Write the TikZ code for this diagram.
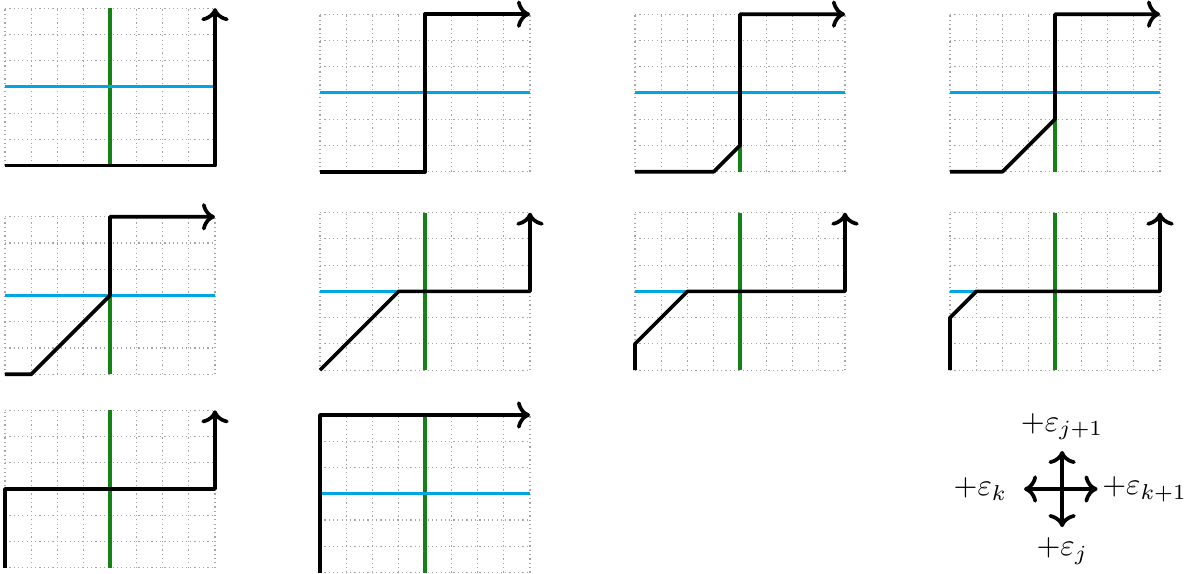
\documentclass[tikz,border=0pt]{standalone}
\usepackage{xcolor}
\usepackage{tikz}
\usetikzlibrary{arrows.meta, positioning, calc}

\definecolor{azul}{RGB}{0,166,226}
\definecolor{verde}{RGB}{20,130,20}

\begin{document}
\begin{tikzpicture}[
  x=0.3cm, y=0.3cm,
  grd/.style={gray!70, densely dotted, line width=0.4pt, step=0.3cm},
  hor/.style={draw=azul, line width=1pt},
  ver/.style={draw=verde, line width=1pt},
  camino/.style={->, draw=black, line width=1.2pt, line join=round},
  flecha/.style={->, draw=black, line width=1.2pt}
]
\useasboundingbox (0,0) rectangle (45.18,21.83);

% ── Fila 1 ────────────────────────────────────────────────────
\begin{scope}[shift={(0.19,15.52)}]
  \draw[grd] (0,0) grid (8,6);
  \draw[ver] (4,0) -- (4,6);
  \draw[hor] (0,3) -- (8,3);
  \draw[camino] (0,0) -- (8,0) -- (8,6);
\end{scope}

\begin{scope}[shift={(12.19,15.29)}]
  \draw[grd] (0,0) grid (8,6);
  \draw[ver] (4,0) -- (4,6);
  \draw[hor] (0,3) -- (8,3);
  \draw[camino] (0,0) -- (4,0) -- (4,6) -- (8,6);
\end{scope}

\begin{scope}[shift={(24.19,15.29)}]
  \draw[grd] (0,0) grid (8,6);
  \draw[ver] (4,0) -- (4,6);
  \draw[hor] (0,3) -- (8,3);
  \draw[camino] (0,0) -- (3,0) -- (4,1) -- (4,6) -- (8,6);
\end{scope}

\begin{scope}[shift={(36.19,15.29)}]
  \draw[grd] (0,0) grid (8,6);
  \draw[ver] (4,0) -- (4,6);
  \draw[hor] (0,3) -- (8,3);
  \draw[camino] (0,0) -- (2,0) -- (4,2) -- (4,6) -- (8,6);
\end{scope}

% ── Fila 2 ────────────────────────────────────────────────────
\begin{scope}[shift={(0.19,7.57)}]
  \draw[grd] (0,0) grid (8,6);
  \draw[ver] (4,0) -- (4,6);
  \draw[hor] (0,3) -- (8,3);
  \draw[camino] (0,0) -- (1,0) -- (4,3) -- (4,6) -- (8,6);
\end{scope}

\begin{scope}[shift={(12.19,7.73)}]
  \draw[grd] (0,0) grid (8,6);
  \draw[ver] (4,0) -- (4,6);
  \draw[hor] (0,3) -- (8,3);
  \draw[camino] (0,0) -- (3,3) -- (8,3) -- (8,6);
\end{scope}

\begin{scope}[shift={(24.19,7.73)}]
  \draw[grd] (0,0) grid (8,6);
  \draw[ver] (4,0) -- (4,6);
  \draw[hor] (0,3) -- (8,3);
  \draw[camino] (0,0) -- (0,1) -- (2,3) -- (8,3) -- (8,6);
\end{scope}

\begin{scope}[shift={(36.19,7.73)}]
  \draw[grd] (0,0) grid (8,6);
  \draw[ver] (4,0) -- (4,6);
  \draw[hor] (0,3) -- (8,3);
  \draw[camino] (0,0) -- (0,2) -- (1,3) -- (8,3) -- (8,6);
\end{scope}

% ── Fila 3 ────────────────────────────────────────────────────
\begin{scope}[shift={(0.19,0.20)}]
  \draw[grd] (0,0) grid (8,6);
  \draw[ver] (4,0) -- (4,6);
  \draw[hor] (0,3) -- (8,3);
  \draw[camino] (0,0) -- (0,3) -- (8,3) -- (8,6);
\end{scope}

\begin{scope}[shift={(12.19,0.02)}]
  \draw[grd] (0,0) grid (8,6);
  \draw[ver] (4,0) -- (4,6);
  \draw[hor] (0,3) -- (8,3);
  \draw[camino] (0,0) -- (0,6) -- (8,6);
\end{scope}

% ── Direcciones ───────────────────────────────────────────────
\coordinate (C) at (40.46,3.20);
\coordinate (N) at ($(C)+(0,1.45)$);
\coordinate (S) at ($(C)+(0,-1.45)$);
\coordinate (W) at ($(C)+(-1.45,0)$);
\coordinate (E) at ($(C)+(1.35,0)$);

\node[above=0pt of N] (eN) {$+\varepsilon_{j+1}$};
\node[below=0pt of S] (eS) {$+\varepsilon_j$};
\node[left=2pt of W]  (eW) {$+\varepsilon_k$};
\node[right=-2pt of E] (eE) {$+\varepsilon_{k+1}$};

\draw[flecha] (C) -- (N);
\draw[flecha] (C) -- (S);
\draw[flecha] (C) -- (W);
\draw[flecha] (C) -- (E);

\end{tikzpicture}
\end{document}
